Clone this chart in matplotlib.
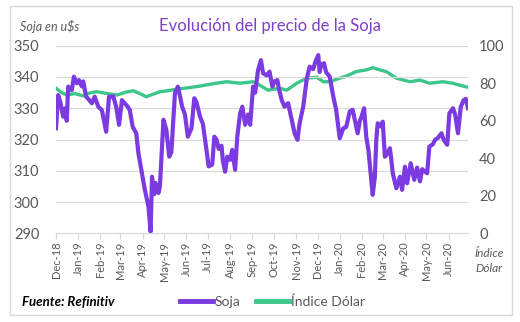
import datetime as dt
import matplotlib
matplotlib.use("Agg")
import matplotlib.pyplot as plt
import matplotlib.dates as mdates
from matplotlib.patches import Rectangle

plt.rcParams["font.family"] = ["Lato", "DejaVu Sans"]

# ======== datos ========
inicio = dt.date(2018, 12, 1)

# Soja (u$s), días desde el 1-dic-2018
soja_dias = [0, 3, 6, 10, 13, 15, 17, 22, 25, 29, 32, 36, 38, 42, 45, 50, 54, 59, 64, 67,
             70, 74, 80, 84, 88, 92, 96, 100, 103, 107, 112, 115, 120, 124, 129, 132, 134, 137, 139, 143,
             145, 150, 154, 158, 161, 166, 170, 173, 176, 180, 184, 189, 193, 196, 201, 205, 210, 213, 218, 221,
             224, 227, 231, 233, 236, 239, 243, 246, 250, 253, 257, 260, 264, 268, 271, 275, 278, 282, 286, 289,
             294, 298, 302, 305, 309, 311, 315, 319, 324, 329, 333, 337, 340, 345, 350, 354, 359, 362, 366, 368,
             370, 374, 377, 382, 387, 391, 396, 401, 405, 410, 414, 417, 421, 424, 426, 430, 433, 436, 440, 442,
             445, 447, 449, 453, 456, 459, 461, 466, 468, 470, 475, 480, 483, 487, 490, 495, 500, 504, 508, 511,
             515, 518, 521, 526, 529, 533, 538, 541, 546, 549, 554, 557, 561, 565, 569, 572, 575]
soja = [323.6, 334.2, 332.0, 327.3, 330.0, 326.0, 336.9, 335.8, 340.1, 338.0, 339.0, 337.0, 338.6, 333.7, 333.0, 331.6, 333.7, 330.5, 329.4, 326.0,
        322.5, 333.7, 333.7, 330.5, 324.7, 332.6, 331.6, 330.5, 329.4, 324.1, 322.0, 315.6, 309.2, 303.9, 298.6, 290.6, 308.1, 302.5, 306.1, 302.9,
        305.0, 326.3, 323.1, 314.5, 316.0, 334.8, 336.9, 334.0, 330.5, 328.0, 320.9, 323.5, 333.2, 332.0, 327.3, 325.0, 316.7, 311.4, 312.0, 320.9,
        320.0, 317.0, 318.0, 313.0, 309.7, 314.5, 313.5, 316.7, 310.3, 320.9, 328.4, 330.5, 324.7, 328.0, 324.7, 336.9, 335.0, 342.2, 345.4, 341.2,
        340.5, 341.7, 336.9, 338.6, 339.0, 336.3, 332.6, 330.5, 331.6, 326.3, 322.0, 319.9, 325.2, 330.5, 339.5, 343.3, 342.5, 344.9, 347.0, 341.6,
        344.0, 344.4, 341.5, 340.1, 333.7, 329.5, 320.4, 323.6, 324.0, 329.0, 329.5, 326.3, 322.0, 326.0, 327.0, 330.0, 320.9, 316.7, 307.1, 302.3,
        308.0, 319.9, 325.2, 324.2, 325.7, 314.5, 315.0, 317.2, 313.5, 309.2, 304.4, 308.1, 303.9, 311.3, 306.0, 312.4, 307.1, 311.0, 306.6, 310.5,
        309.7, 309.2, 317.7, 318.5, 319.9, 320.5, 322.0, 319.9, 318.3, 328.4, 330.0, 328.0, 322.0, 330.5, 332.6, 333.0, 330.0]

# Índice Dólar, días desde el 1-dic-2018
dolar_dias = [0, 8, 15, 26, 38, 47, 57, 70, 85, 97, 108, 118, 126, 136, 145, 156, 168, 185, 201, 220,
              238, 257, 275, 284, 296, 312, 322, 336, 350, 364, 373, 382, 396, 405, 419, 433, 442, 452, 461, 475,
              494, 508, 521, 540, 554, 563, 575]
dolar = [77.3, 75.0, 73.7, 74.5, 73.2, 74.8, 75.5, 74.6, 73.7, 75.2, 76.0, 74.3, 72.8, 74.2, 75.5, 76.0, 76.8, 77.6, 78.5, 79.8,
         80.8, 80.0, 80.8, 79.0, 76.3, 77.3, 76.3, 80.0, 82.7, 83.2, 80.8, 80.8, 82.7, 83.8, 86.2, 87.1, 88.3, 87.1, 86.2, 82.7,
         80.8, 81.7, 80.0, 80.8, 80.0, 79.0, 77.8]

soja_fechas = [inicio + dt.timedelta(days=d) for d in soja_dias]
dolar_fechas = [inicio + dt.timedelta(days=d) for d in dolar_dias]

morado = "#7B3BE0"
verde = "#3CC68A"
gris = "#595959"
rejilla = "#D9D9D9"

# ======== gráfico ========
fig = plt.figure(figsize=(5.2, 3.22), dpi=100)
ax = fig.add_axes([0.1077, 0.2755, 0.7923, 0.5825])
ax2 = ax.twinx()

ax.plot(soja_fechas, soja, color=morado, lw=3.0, solid_joinstyle="round", zorder=3)
ax2.plot(dolar_fechas, dolar, color=verde, lw=2.4, solid_joinstyle="round", zorder=2)
ax.set_zorder(ax2.get_zorder() + 1)
ax.patch.set_visible(False)

ax.set_ylim(290, 350)
ax.set_yticks(range(290, 351, 10))
ax2.set_ylim(0, 100)
ax2.set_yticks(range(0, 101, 20))
ax.set_xlim(soja_fechas[0], soja_fechas[-1])

for y in range(300, 351, 10):
    ax.axhline(y, color=rejilla, lw=0.9, zorder=0)

ax.xaxis.set_major_locator(mdates.MonthLocator())
ax.xaxis.set_major_formatter(mdates.DateFormatter("%b-%y"))
for lbl in ax.get_xticklabels():
    lbl.set_rotation(90)
ax.tick_params(axis="x", colors=rejilla, labelcolor=gris, labelsize=8, length=4, width=0.9, pad=2)
ax.tick_params(axis="y", length=0, labelcolor=gris, labelsize=10.5, pad=12)
ax2.tick_params(axis="y", length=0, labelcolor=gris, labelsize=10.5, pad=8)

for a in (ax, ax2):
    for s in ("top", "left", "right"):
        a.spines[s].set_visible(False)
    a.spines["bottom"].set_color(rejilla)
    a.spines["bottom"].set_linewidth(0.9)
ax2.spines["bottom"].set_visible(False)

# ======== textos ========
fig.text(0.52, 0.918, "Evolución del precio de la Soja", color="#7F3FC9",
         fontsize=12, ha="center", va="center")
fig.text(0.038, 0.918, "Soja en u$s", color=gris, fontsize=9, style="italic",
         ha="left", va="center")
fig.text(0.94, 0.19, "Índice\nDólar", color=gris, fontsize=8.5, style="italic",
         ha="center", va="center", linespacing=1.5)
fig.text(0.042, 0.062, "Fuente: Refinitiv", color="black", fontsize=9.5,
         style="italic", fontweight="bold", ha="left", va="center")

lineas = [plt.Line2D([], [], color=morado, lw=3.5), plt.Line2D([], [], color=verde, lw=3.5)]
leg = fig.legend(lineas, ["Soja", "Índice Dólar"], loc="center", bbox_to_anchor=(0.524, 0.062),
                 ncol=2, frameon=False, fontsize=10, handlelength=2.4, handletextpad=0.15,
                 columnspacing=1.1)
for t in leg.get_texts():
    t.set_color(gris)

# marco exterior
fig.patches.append(Rectangle((0.019, 0.022), 0.965, 0.96, transform=fig.transFigure,
                             fill=False, edgecolor=rejilla, lw=1.0))

fig.savefig("out.png", dpi=100)
